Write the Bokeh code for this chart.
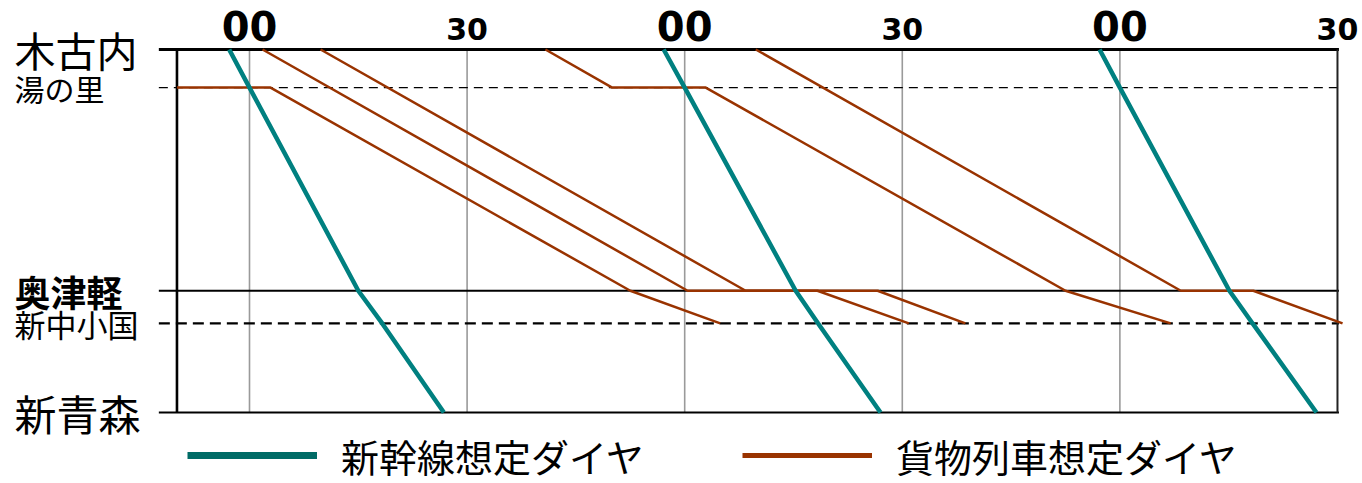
from bokeh.plotting import figure
from bokeh.models import Range1d, Legend, LegendItem
from bokeh.core.properties import value
from bokeh.embed import file_html
from bokeh.resources import INLINE

# ---------------- data ----------------
# stations (top -> bottom) and their position along the line (km from 新青森)
stations = ["木古内", "湯の里", "奥津軽", "新中小国", "新青森"]
station_km = [113.3, 101.4, 38.0, 27.8, 0.0]
minor_stations = ["湯の里", "新中小国"]          # drawn dashed

# time axis (minutes) and its labels
hour_ticks = [0, 30, 60, 90, 120, 150]
hour_labels = ["00", "30", "00", "30", "00", "30"]

# Shinkansen runs: passing time (min) at 木古内, 湯の里, 奥津軽, 新中小国, 新青森
shinkansen_1 = [-2.8, 0.0, 15.0, 18.3, 26.8]
shinkansen_2 = [57.1, 60.0, 75.3, 78.4, 87.0]
shinkansen_3 = [117.2, 120.0, 135.1, 138.3, 147.1]

# Freight runs: station sequence and times (min)
freight_1_st = ["湯の里", "湯の里", "奥津軽", "新中小国"]
freight_1_t = [-10.0, 2.9, 52.5, 64.9]
freight_2_st = ["木古内", "奥津軽", "奥津軽", "新中小国"]
freight_2_t = [1.8, 60.4, 78.3, 90.9]
freight_3_st = ["木古内", "奥津軽", "奥津軽", "新中小国"]
freight_3_t = [9.8, 68.4, 86.6, 98.7]
freight_4_st = ["木古内", "湯の里", "湯の里", "奥津軽", "新中小国"]
freight_4_t = [40.8, 50.0, 62.9, 112.5, 127.0]
freight_5_st = ["木古内", "奥津軽", "奥津軽", "新中小国"]
freight_5_t = [69.8, 128.4, 138.4, 150.7]

legend_labels = ["新幹線想定ダイヤ", "貨物列車想定ダイヤ"]

# ---------------- figure ----------------
km = dict(zip(stations, station_km))
T_MIN, T_MAX = -10.0, 150.0

W, H = 1362, 483
p = figure(width=W, height=H, output_backend="svg", toolbar_location=None,
           x_range=Range1d(-34.33, 153.45), y_range=Range1d(-22.16, 128.59),
           x_axis_location=None, y_axis_location=None,
           min_border_left=0, min_border_right=0, min_border_top=0, min_border_bottom=0)
p.outline_line_color = None
p.grid.visible = False
p.background_fill_color = "white"
p.border_fill_color = "white"

top, bottom = station_km[0], station_km[-1]

# vertical hour grid lines
grid_t = [t for t in hour_ticks if t < T_MAX]
p.segment(x0=grid_t, y0=[top] * len(grid_t), x1=grid_t, y1=[bottom] * len(grid_t),
          line_color="#9a9a9a", line_width=1.6)

# station lines (extend a little to the left of the axis, like ticks)
tick_ext = 2.5
for s, y in zip(stations, station_km):
    if s in minor_stations:
        lw = 1.3 if s == "湯の里" else 2.2
        dash = "9 6" if s == "湯の里" else "11 6"
        p.line([T_MIN - tick_ext, T_MAX + 0.2], [y, y], line_color="black",
               line_width=lw, line_dash=dash)
    else:
        lw = 3 if s == stations[0] else 2.2
        p.line([T_MIN - tick_ext, T_MAX + 0.2], [y, y], line_color="black", line_width=lw)

# left axis line and right border
p.line([T_MIN, T_MIN], [top, bottom], line_color="black", line_width=2.6)
p.line([T_MAX, T_MAX], [top, bottom], line_color="#222222", line_width=2)

# freight trains
for st, tt in [(freight_1_st, freight_1_t), (freight_2_st, freight_2_t),
               (freight_3_st, freight_3_t), (freight_4_st, freight_4_t),
               (freight_5_st, freight_5_t)]:
    p.line(tt, [km[s] for s in st], line_color="#993300", line_width=2.5)

# shinkansen
for tt in [shinkansen_1, shinkansen_2, shinkansen_3]:
    p.line(tt, station_km, line_color="#008080", line_width=4.5)

# hour labels on top
big = [i for i, l in enumerate(hour_labels) if l == "00"]
small = [i for i, l in enumerate(hour_labels) if l != "00"]
p.text(x=[hour_ticks[i] for i in big], y=[top + 7.2] * len(big),
       text=[hour_labels[i] for i in big], text_font=value("DejaVu Sans"),
       text_font_style="bold", text_font_size="40px", text_align="center",
       text_baseline="middle", text_color="black")
p.text(x=[hour_ticks[i] for i in small], y=[top + 6.5] * len(small),
       text=[hour_labels[i] for i in small], text_font=value("DejaVu Sans"),
       text_font_style="bold", text_font_size="30px", text_align="center",
       text_baseline="middle", text_color="black")

# station names
name_x = -32.4
name_sizes = {"木古内": "41px", "湯の里": "30px", "奥津軽": "36px", "新中小国": "31px", "新青森": "42px"}
for s, y in zip(stations, station_km):
    p.text(x=[name_x], y=[y], text=[s], text_font=value("Noto Sans CJK JP"),
           text_font_size=name_sizes[s],
           text_font_style="bold" if s == "奥津軽" else "normal",
           text_align="left", text_baseline="middle", text_color="black")

# legend (sample renderers hold one empty point so the legend can style them)
nan = float("nan")
r_shin = p.line([nan], [nan], line_color="#006b66", line_width=7)
r_frt = p.line([nan], [nan], line_color="#993300", line_width=5)
legend = Legend(items=[LegendItem(label=legend_labels[0], renderers=[r_shin]),
                       LegendItem(label=legend_labels[1], renderers=[r_frt])],
                orientation="horizontal", location=(187, -2),
                glyph_width=130, glyph_height=60, label_height=60,
                label_standoff=24, spacing=98, padding=0, margin=0,
                border_line_alpha=0, background_fill_alpha=0,
                label_text_font="Noto Sans CJK JP", label_text_font_size="38px",
                label_text_color="black")
p.add_layout(legend)

open("out.html", "w").write(file_html(p, INLINE))
